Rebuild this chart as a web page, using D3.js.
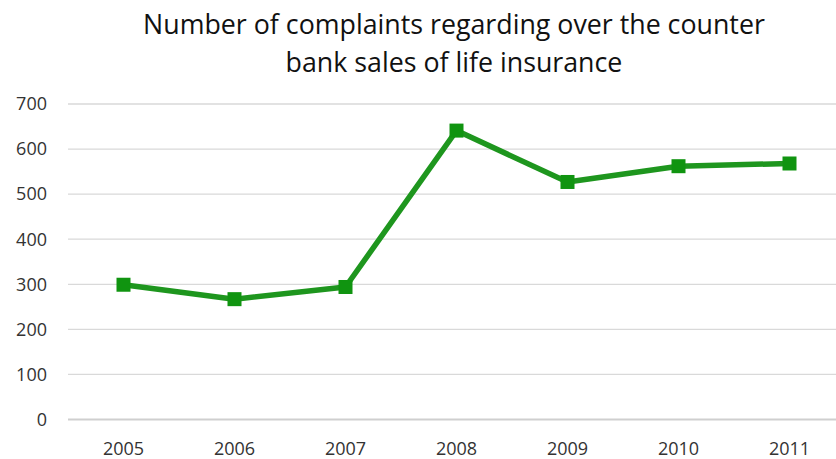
<!DOCTYPE html>
<html>
<head>
<meta charset="utf-8">
<script src="https://cdn.jsdelivr.net/npm/d3@7"></script>
<style>
  html, body { margin: 0; padding: 0; background: #ffffff; }
  svg { display: block; }
</style>
</head>
<body>
<svg id="chart" width="836" height="459"></svg>
<script>
const titleLines = ["Number of complaints regarding over the counter", "bank sales of life insurance"];
const years = ["2005", "2006", "2007", "2008", "2009", "2010", "2011"];
const complaints = [299, 267, 294, 641, 527, 562, 568];
const yTicks = [0, 100, 200, 300, 400, 500, 600, 700];

(function () {
const W = 836, H = 459;
const mLeft = 68, mRight = 845, mTop = 104, mBottom = 419.5;
const svg = d3.select("#chart");
const font = "'Open Sans', 'Liberation Sans', sans-serif";

const x = d3.scaleBand().domain(years).range([mLeft, mRight]).padding(0);
const y = d3.scaleLinear().domain([0, 700]).range([mBottom, mTop]);

// gridlines
svg.append("g").selectAll("line").data(yTicks.filter(d => d !== 0)).join("line")
  .attr("x1", mLeft).attr("x2", W)
  .attr("y1", d => y(d)).attr("y2", d => y(d))
  .attr("stroke", "#d9d9d9").attr("stroke-width", 1.3);

// axis line
svg.append("line").attr("x1", mLeft).attr("x2", W)
  .attr("y1", y(0)).attr("y2", y(0))
  .attr("stroke", "#cfcfcf").attr("stroke-width", 2);

// y tick labels
svg.append("g").selectAll("text").data(yTicks).join("text")
  .attr("x", 47).attr("y", d => y(d))
  .attr("dy", "0.35em")
  .attr("text-anchor", "end")
  .attr("font-family", font).attr("font-size", 18)
  .attr("fill", "#333333")
  .text(d => d);

// x tick labels
svg.append("g").selectAll("text").data(years).join("text")
  .attr("x", d => x(d) + x.bandwidth() / 2).attr("y", 455)
  .attr("text-anchor", "middle")
  .attr("font-family", font).attr("font-size", 18)
  .attr("fill", "#333333")
  .text(d => d);

// line
const data = years.map((yr, i) => ({ yr, v: complaints[i] }));
const line = d3.line().x(d => x(d.yr) + x.bandwidth() / 2).y(d => y(d.v));
svg.append("path").datum(data)
  .attr("d", line)
  .attr("fill", "none")
  .attr("stroke", "#1e961e")
  .attr("stroke-width", 5.5)
  .attr("stroke-linejoin", "round");

// markers
const ms = 14;
svg.append("g").selectAll("rect").data(data).join("rect")
  .attr("x", d => x(d.yr) + x.bandwidth() / 2 - ms / 2)
  .attr("y", d => y(d.v) - ms / 2)
  .attr("width", ms).attr("height", ms)
  .attr("fill", "#109410");

// title
const title = svg.append("g");
const baselines = [34, 72];
titleLines.forEach((t, i) => {
  title.append("text")
    .attr("x", 454).attr("y", baselines[i])
    .attr("text-anchor", "middle")
    .attr("font-family", font).attr("font-size", 24)
    .attr("fill", "#111111")
    .text(t);
});
const t0 = title.select("text").node();
const len = t0.getComputedTextLength();
const fs = 24 * 622 / len;
title.selectAll("text").attr("font-size", fs);
})();
</script>
</body>
</html>
